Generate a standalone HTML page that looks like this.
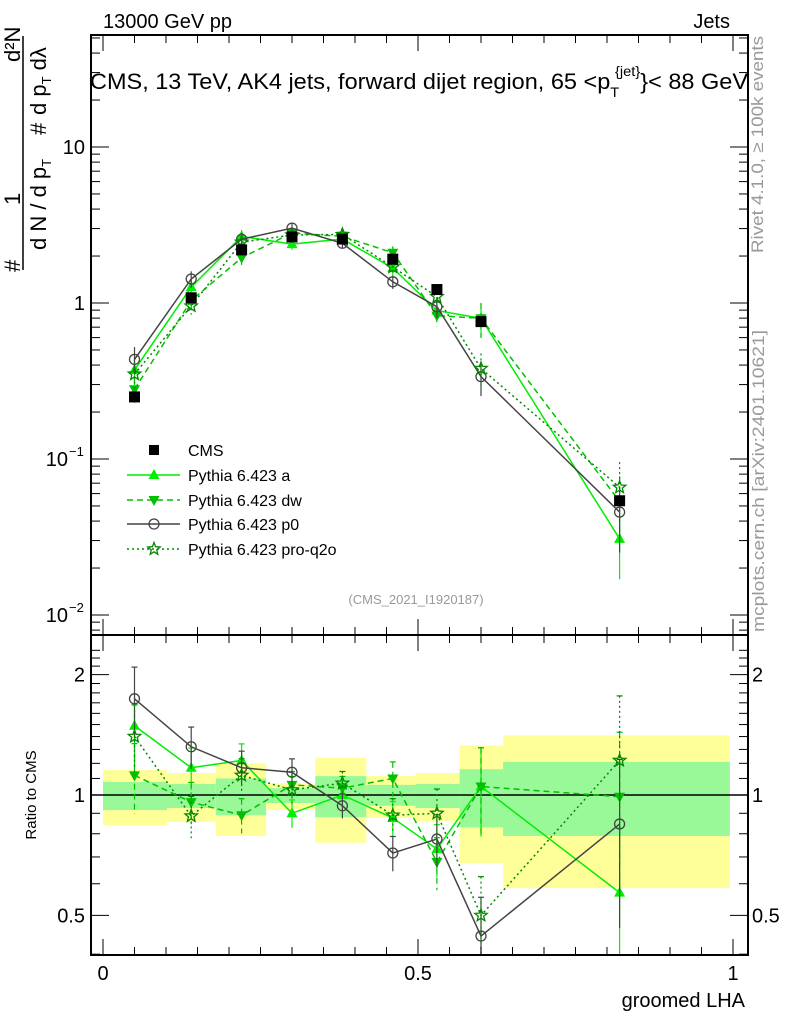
<!DOCTYPE html>
<html><head><meta charset="utf-8">
<style>
html,body{margin:0;padding:0;background:#fff;}
svg{display:block;font-family:"Liberation Sans",sans-serif;}
</style></head>
<body>
<svg id="c" width="786" height="1024" viewBox="0 0 786 1024" xmlns="http://www.w3.org/2000/svg">
<rect x="0" y="0" width="786" height="1024" fill="#fff"/>
<g id="bands"></g>
<g id="marks"></g>
<g id="axes"></g>
<text x="103" y="28" font-size="20">13000 GeV pp</text>
<text x="730" y="28" font-size="20" text-anchor="end">Jets</text>
<text x="90" y="89" font-size="22.5" textLength="658" lengthAdjust="spacingAndGlyphs">CMS, 13 TeV, AK4 jets, forward dijet region, 65 &lt;p<tspan font-size="14" dy="8">T</tspan><tspan font-size="14" dy="-21" dx="-4">{jet}</tspan><tspan dy="13">}&lt; 88 GeV</tspan></text>
<text transform="translate(763,253) rotate(-90)" font-size="16.5" fill="#999" textLength="217" lengthAdjust="spacingAndGlyphs">Rivet 4.1.0, ≥ 100k events</text>
<text transform="translate(764,632) rotate(-90)" font-size="16.5" fill="#999" textLength="302" lengthAdjust="spacingAndGlyphs">mcplots.cern.ch [arXiv:2401.10621]</text>
<text x="416" y="604" font-size="13" fill="#999" text-anchor="middle">(CMS_2021_I1920187)</text>
<g font-size="22">
<text transform="translate(20,272) rotate(-90)">#</text>
<text transform="translate(20,205) rotate(-90)">1</text>
<text transform="translate(20,62) rotate(-90)">d²N</text>
<line x1="23" y1="36" x2="23" y2="270" stroke="#000" stroke-width="1.5"/>
<text transform="translate(46,250) rotate(-90)">d N / d p<tspan font-size="13" dy="5">T</tspan></text>
<text transform="translate(46,135) rotate(-90)">#</text>
<text transform="translate(46,115) rotate(-90)">d p<tspan font-size="13" dy="5">T</tspan><tspan dy="-5"> dλ</tspan></text>
</g>
<text transform="translate(36,795) rotate(-90)" font-size="15" text-anchor="middle">Ratio to CMS</text>
<text x="745" y="1007" font-size="20" text-anchor="end">groomed LHA</text>
<g id="legend"></g>
</svg>
<script>
const xCenters=[0.05,0.14,0.22,0.30,0.38,0.46,0.53,0.60,0.82];
const binEdges=[0,0.1016,0.179,0.259,0.337,0.418,0.496,0.566,0.635,0.995];
const cmsVals=[0.25,1.08,2.19,2.65,2.57,1.91,1.22,0.76,0.054];
const ratioA=[1.49,1.17,1.22,0.90,1.0,0.876,0.733,1.05,0.57];
const ratioDW=[1.12,0.96,0.89,1.06,1.04,1.10,0.68,1.05,0.99];
const ratioP0=[1.74,1.32,1.17,1.14,0.94,0.716,0.776,0.444,0.846];
const ratioQ2O=[1.40,0.886,1.12,1.03,1.07,0.89,0.90,0.50,1.22];
const mcRelErr=[0.2,0.12,0.1,0.08,0.07,0.1,0.15,0.25,0.45];
const yellowHi=[1.155,1.135,1.2,1.07,1.24,1.115,1.135,1.33,1.41];
const yellowLo=[0.84,0.856,0.79,0.917,0.76,0.876,0.86,0.676,0.585];
const greenHi=[1.078,1.065,1.10,1.04,1.115,1.06,1.065,1.16,1.21];
const greenLo=[0.917,0.928,0.89,0.955,0.88,0.94,0.928,0.83,0.79];
const NS="http://www.w3.org/2000/svg";
const L=91,R=748,T=35,MB=635,RB=955;
function X(v){return 103+630*v;}
function YM(v){return 303-156*Math.log10(v);}
function YR(v){return 795-400*Math.log10(v);}
function mk(tag,attrs,parent){const e=document.createElementNS(NS,tag);for(const k in attrs)e.setAttribute(k,attrs[k]);parent.appendChild(e);return e;}
const bands=document.getElementById('bands'),marks=document.getElementById('marks'),axes=document.getElementById('axes');
for(let i=0;i<xCenters.length;i++){
 const y=mk('rect',{x:X(binEdges[i]),y:YR(yellowHi[i]),width:X(binEdges[i+1])-X(binEdges[i]),height:YR(yellowLo[i])-YR(yellowHi[i]),fill:'#ffff99'},bands);
 
 
 const g=mk('rect',{x:X(binEdges[i]),y:YR(greenHi[i]),width:X(binEdges[i+1])-X(binEdges[i]),height:YR(greenLo[i])-YR(greenHi[i]),fill:'#99f999'},bands);
 
 
}
const ln=mk('line',{x1:L,x2:R,y1:YR(1),y2:YR(1),stroke:'#000','stroke-width':1.5},bands);


function marker(type,x,y,col,g){
 if(type==='tri')mk('polygon',{points:`${x},${y-6} ${x-5.5},${y+4} ${x+5.5},${y+4}`,fill:col},g);
 else if(type==='tridn')mk('polygon',{points:`${x},${y+6} ${x-5.5},${y-4} ${x+5.5},${y-4}`,fill:col},g);
 else if(type==='circ')mk('circle',{cx:x,cy:y,r:5,fill:'none',stroke:col,'stroke-width':1.3},g);
 else if(type==='star'){let p=[];for(let k=0;k<10;k++){const r=k%2?2.8:6.5,a=-Math.PI/2+k*Math.PI/5;p.push((x+r*Math.cos(a)).toFixed(1)+','+(y+r*Math.sin(a)).toFixed(1));}mk('polygon',{points:p.join(' '),fill:'none',stroke:col,'stroke-width':1.3},g);}
 else if(type==='sq')mk('rect',{x:x-5,y:y-5,width:10,height:10,fill:col},g);
}
const series=[
 {name:'pythia-a',r:ratioA,col:'#00ee00',dash:'',m:'tri'},
 {name:'pythia-dw',r:ratioDW,col:'#00c000',dash:'6,4',m:'tridn'},
 {name:'pythia-p0',r:ratioP0,col:'#444',dash:'',m:'circ'},
 {name:'pythia-pro-q2o',r:ratioQ2O,col:'#008800',dash:'2,3',m:'star'}];
series.forEach(s=>{
 const g=mk('g',{},marks);
 
 
 const pm=[],pr=[];
 xCenters.forEach((xv,i)=>{
  const v=s.r[i]*cmsVals[i];
  pm.push(X(xv)+','+YM(v));
  pr.push(X(xv)+','+YR(Math.max(s.r[i],0.1)));
 });
 mk('polyline',{points:pm.join(' '),fill:'none',stroke:s.col,'stroke-width':1.5,'stroke-dasharray':s.dash},g);
 mk('polyline',{points:pr.join(' '),fill:'none',stroke:s.col,'stroke-width':1.5,'stroke-dasharray':s.dash},g);
 xCenters.forEach((xv,i)=>{
  const v=s.r[i]*cmsVals[i],e=mcRelErr[i];
  const x=X(xv);
  const y1=YM(v*(1+e)),y2=YM(v*Math.max(1-e,0.05));
  mk('line',{x1:x,x2:x,y1:y1,y2:y2,stroke:s.col,'stroke-width':1.2,'stroke-dasharray':s.dash},g);
  const r1=YR(s.r[i]*(1+e)),r2=Math.min(RB,YR(s.r[i]*Math.max(1-e,0.05)));
  mk('line',{x1:x,x2:x,y1:r1,y2:r2,stroke:s.col,'stroke-width':1.2,'stroke-dasharray':s.dash},g);
  mk('line',{x1:x-3,x2:x+3,y1:r1,y2:r1,stroke:s.col,'stroke-width':1.2},g);
  marker(s.m,x,YM(v),s.col,g);
  marker(s.m,x,YR(s.r[i]),s.col,g);
 });
});
const cg=mk('g',{},marks);


xCenters.forEach((xv,i)=>{
 const p=mk('rect',{x:X(xv)-5.5,y:YM(cmsVals[i])-5.5,width:11,height:11,fill:'#000'},cg);
 
 
});
mk('rect',{x:L,y:T,width:R-L,height:MB-T,fill:'none',stroke:'#000','stroke-width':2},axes);
mk('rect',{x:L,y:MB,width:R-L,height:RB-MB,fill:'none',stroke:'#000','stroke-width':2},axes);
for(let k=0;k<=20;k++){const v=k*0.05,x=X(v);if(x>R)break;const big=k%10==0,len=big?16:8;
 mk('line',{x1:x,x2:x,y1:MB,y2:MB-len,stroke:'#000','stroke-width':1},axes);
 mk('line',{x1:x,x2:x,y1:MB,y2:MB+len,stroke:'#000','stroke-width':1},axes);
 mk('line',{x1:x,x2:x,y1:RB,y2:RB-len,stroke:'#000','stroke-width':1},axes);
 mk('line',{x1:x,x2:x,y1:T,y2:T+len,stroke:'#000','stroke-width':1},axes);}
const xTickLabels=['0','0.5','1'];
xTickLabels.forEach(t=>{const tx=mk('text',{x:X(parseFloat(t)),y:980,'font-size':20,'text-anchor':'middle'},axes);tx.textContent=t;
 
 });
for(let d=-3;d<=1;d++){for(let m=1;m<10;m++){const v=m*Math.pow(10,d),y=YM(v);if(y<T||y>MB)continue;const len=m==1?18:9;
 mk('line',{x1:L,x2:L+len,y1:y,y2:y,stroke:'#000','stroke-width':1},axes);
 mk('line',{x1:R,x2:R-len,y1:y,y2:y,stroke:'#000','stroke-width':1},axes);}}
const mainTicks=[[10,'10'],[1,'1'],[0.1,'10'],[0.01,'10']],mainExp=['','','−1','−2'];
mainTicks.forEach((t,i)=>{const tx=mk('text',{x:mainExp[i]?68:85,y:YM(t[0])+7,'font-size':20,'text-anchor':'end'},axes);tx.textContent=t[1];
 
 
 if(mainExp[i]){const e=mk('text',{x:69,y:YM(t[0])-3,'font-size':13},axes);e.textContent=mainExp[i];}});
for(let v=0.4;v<=2.31;v+=0.1){const y=YR(v);if(y<MB||y>RB)continue;const big=Math.abs(v-0.5)<1e-6||Math.abs(v-1)<1e-6||Math.abs(v-2)<1e-6,len=big?18:9;
 mk('line',{x1:L,x2:L+len,y1:y,y2:y,stroke:'#000','stroke-width':1},axes);
 mk('line',{x1:R,x2:R-len,y1:y,y2:y,stroke:'#000','stroke-width':1},axes);}
const ratioTickLabels=['0.5','1','2'];
ratioTickLabels.forEach(t=>{const y=YR(parseFloat(t))+7;
 const a=mk('text',{x:85,y:y,'font-size':20,'text-anchor':'end'},axes);a.textContent=t;
 
 
 const b=mk('text',{x:752,y:y,'font-size':20},axes);b.textContent=t;
 
 });
const lg=document.getElementById('legend');
const legendNames=['CMS','Pythia 6.423 a','Pythia 6.423 dw','Pythia 6.423 p0','Pythia 6.423 pro-q2o'];
const legendY=[450,475,500,524,549];
legendNames.forEach((n,i)=>{const y=legendY[i];
 const g=mk('g',{},lg);
 
 
 if(i==0)marker('sq',154,y,'#000',g);else{const s=series[i-1];
  mk('line',{x1:127,x2:180,y1:y,y2:y,stroke:s.col,'stroke-width':1.5,'stroke-dasharray':s.dash},g);marker(s.m,154,y,s.col,g);}
 const t=mk('text',{x:188,y:y+6,'font-size':16},g);t.textContent=n;});
</script>
</body></html>
